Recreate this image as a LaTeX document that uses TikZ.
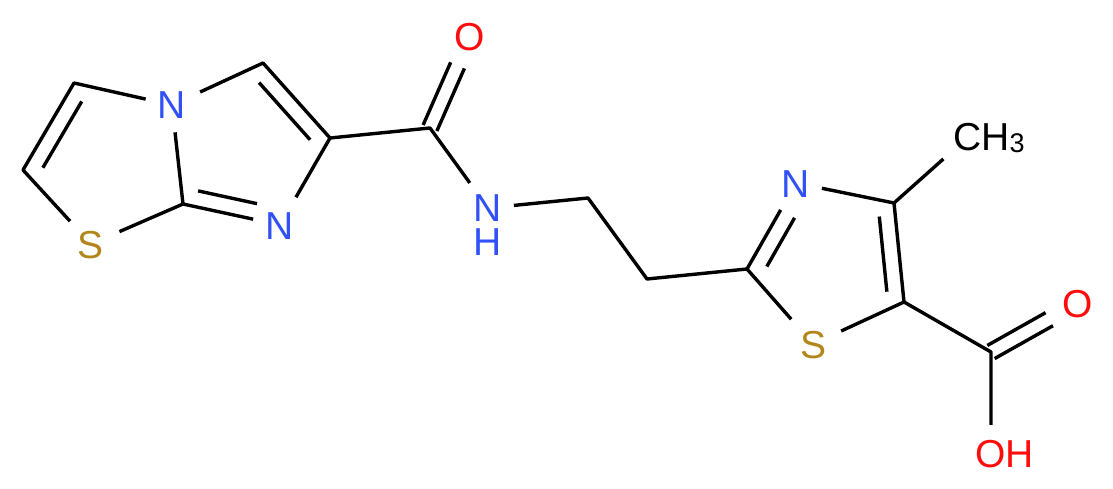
\documentclass[tikz,border=0pt]{standalone}
\usepackage{fontspec}
\setmainfont{Liberation Sans}
\usetikzlibrary{calc}
\definecolor{nblue}{RGB}{48,80,248}
\definecolor{ored}{RGB}{255,13,13}
\definecolor{sgold}{RGB}{178,134,26}
\tikzset{
 bond/.style={line width=3.4pt, line join=round, black},
 atomfont/.style={inner sep=0pt, font=\fontsize{39}{34}\selectfont},
 atom/.style={atomfont, text height=28pt, text depth=0pt},
 Natom/.style={atom, text=nblue},
 Oatom/.style={atom, text=ored},
 Satom/.style={atom, text=sgold},
}
\newcommand\innerbond[4]{\draw[bond, shorten <=#3, shorten >=#4] ($(#1.center)!16pt!90:(#2.center)$) -- ($(#2.center)!16pt!-90:(#1.center)$);}
\newcommand\symbond[3]{%
 \draw[bond, shorten >=#3] ($(#1.center)!7.5pt!90:(#2.center)$) -- ($(#2.center)!7.5pt!-90:(#1.center)$);
 \draw[bond, shorten >=#3] ($(#1.center)!7.5pt!-90:(#2.center)$) -- ($(#2.center)!7.5pt!90:(#1.center)$);}
\begin{document}
\begin{tikzpicture}[x=1pt,y=-1pt]
\useasboundingbox (0,0) rectangle (1113,489);
% atoms
\coordinate (c1) at (74,83);
\coordinate (c2) at (23,170);
\node[Satom] (s1) at (91,244) {S};
\coordinate (c7a) at (183,204);
\node[Natom] (n4) at (172,105) {N};
\coordinate (c3) at (263,63);
\node[Natom] (n7) at (280,225) {N};
\coordinate (c6) at (330,138);
\coordinate (c8) at (430,128);
\node[Oatom] (o1) at (470,37) {O};
\node[atomfont, text=nblue, align=center, anchor=north] (nh) at (488,194) {N\\H};
\coordinate (n8) at (488,208);
\coordinate (c10) at (588,198);
\coordinate (c11) at (647,279);
\coordinate (c2t) at (747,269);
\node[Natom] (n3) at (796,183) {N};
\coordinate (c4) at (894,203);
\node[atom, anchor=west] (ch3) at (953,137) {CH\raisebox{-1.5pt}{\fontsize{27}{27}\selectfont 3}};
\coordinate (ch3c) at ($(ch3.west)+(15,0)$);
\coordinate (c5) at (904,302);
\node[Satom] (s2) at (813,344) {S};
\coordinate (c9) at (991,352);
\node[Oatom] (o2) at (1078,303) {O};
\node[Oatom, anchor=west] (oh) at (975,453) {OH};
% bonds
\draw[bond, shorten <=27pt, shorten >=31pt] (n4.center) -- (c1) -- (c2) -- (s1.center);
\draw[bond, shorten <=31pt, shorten >=31pt] (n4.center) -- (c3) -- (c6) -- (c8) -- (n8);
\draw[bond, shorten >=32pt] (c6) -- (n7.center);
\draw[bond, shorten <=27.5pt] (n4.center) -- (c7a);
\draw[bond, shorten <=31pt, shorten >=27.5pt] (s1.center) -- (c7a) -- (n7.center);
\innerbond{c1}{c2}{12pt}{12pt}
\innerbond{c6}{c3}{12pt}{12pt}
\innerbond{c7a}{n7}{12pt}{27pt}
\symbond{c8}{o1}{31pt}
\draw[bond, shorten <=26pt, shorten >=33pt] (n8) -- (c10) -- (c11) -- (c2t) -- (s2.center);
\draw[bond, shorten >=31pt] (c2t) -- (n3.center);
\innerbond{n3}{c2t}{31pt}{12pt}
\draw[bond, shorten <=26.5pt, shorten >=31pt] (n3.center) -- (c4) -- (c5) -- (s2.center);
\innerbond{c5}{c4}{12pt}{12pt}
\draw[bond, shorten >=33pt] (c4) -- (ch3c);
\draw[bond, shorten >=14pt] (c5) -- (c9) -- (c9 |- oh.north);
\symbond{c9}{o2}{33pt}
\end{tikzpicture}
\end{document}
